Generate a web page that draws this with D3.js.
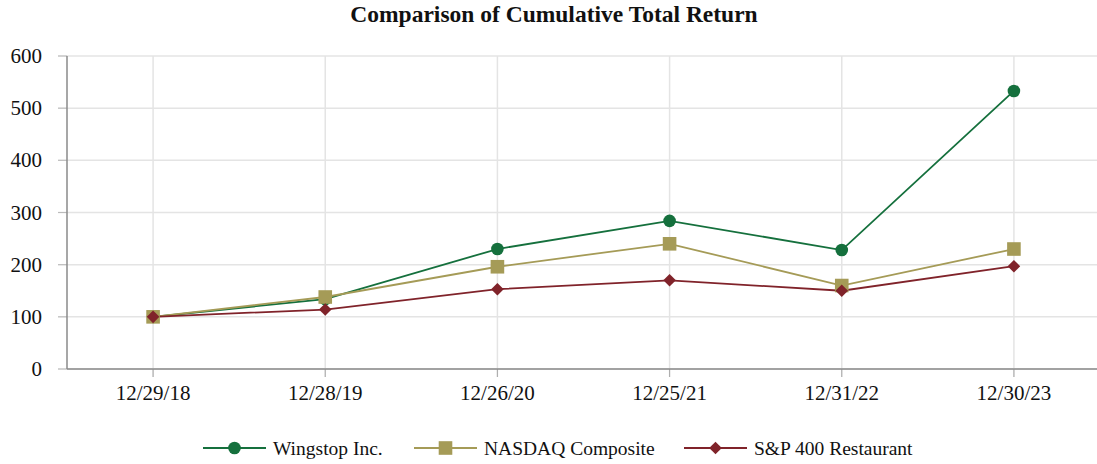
<!DOCTYPE html>
<html><head><meta charset="utf-8">
<script src="https://cdn.jsdelivr.net/npm/d3@7"></script>
<style>body{margin:0;background:#fff}svg{display:block}text{font-family:"Liberation Serif","Times New Roman",serif;fill:#111}</style>
</head><body>
<svg id="chart" width="1097" height="464"></svg>
<script>
const categories = ["12/29/18","12/28/19","12/26/20","12/25/21","12/31/22","12/30/23"];
const wingstop = [100,134,230,284,228,533];
const nasdaq = [100,138,196,240,160,230];
const sp400 = [100,114,153,170,150,197];
const yTicks = [0,100,200,300,400,500,600];
const seriesNames = ["Wingstop Inc.","NASDAQ Composite","S&P 400 Restaurant"];
const colors = ["#15703d","#a59b57","#80232a"];
const shapes = ["circle","square","diamond"];

const series = [wingstop, nasdaq, sp400].map((v,i)=>({name:seriesNames[i],values:v,color:colors[i],shape:shapes[i]}));

const svg = d3.select("#chart");
const pLeft = 67, pRight = 1100, pTop = 56, pBottom = 369;
const x = d3.scalePoint().domain(categories).range([pLeft, pRight]).padding(0.5);
const y = d3.scaleLinear().domain([0,600]).range([pBottom, pTop]);

// title
svg.append("text").attr("x",554).attr("y",22).attr("text-anchor","middle")
  .style("font-weight","bold").style("font-size","23.5px").text("Comparison of Cumulative Total Return");

// horizontal grid
svg.append("g").selectAll("line").data(yTicks).join("line")
  .attr("x1",58).attr("x2",1097).attr("y1",d=>y(d)).attr("y2",d=>y(d))
  .attr("stroke","#e4e4e4").attr("stroke-width",1.5);
// vertical grid
svg.append("g").selectAll("line").data(categories).join("line")
  .attr("x1",d=>x(d)).attr("x2",d=>x(d)).attr("y1",pTop).attr("y2",pBottom+8)
  .attr("stroke","#e4e4e4").attr("stroke-width",1.5);
// tick marks below x axis
svg.append("g").selectAll("line").data(categories).join("line")
  .attr("x1",d=>x(d)).attr("x2",d=>x(d)).attr("y1",pBottom).attr("y2",pBottom+8)
  .attr("stroke","#aaa").attr("stroke-width",1);
// y tick marks
svg.append("g").selectAll("line").data(yTicks).join("line")
  .attr("x1",58).attr("x2",pLeft).attr("y1",d=>y(d)).attr("y2",d=>y(d))
  .attr("stroke","#bbb").attr("stroke-width",1);

// axes lines
svg.append("line").attr("x1",pLeft).attr("x2",pLeft).attr("y1",pTop).attr("y2",pBottom)
  .attr("stroke","#8a8a8a").attr("stroke-width",1.5);
svg.append("line").attr("x1",pLeft).attr("x2",1097).attr("y1",pBottom).attr("y2",pBottom)
  .attr("stroke","#8a8a8a").attr("stroke-width",1.5);

// y labels
svg.append("g").selectAll("text").data(yTicks).join("text")
  .attr("x",42).attr("y",d=>y(d)+7).attr("text-anchor","end").style("font-size","21px").text(d=>d);
// x labels
svg.append("g").selectAll("text").data(categories).join("text")
  .attr("x",d=>x(d)).attr("y",pBottom+31).attr("text-anchor","middle").style("font-size","21px").text(d=>d);

function drawMarker(g, shape, color, cx, cy, s) {
  if (shape==="circle") g.append("circle").attr("cx",cx).attr("cy",cy).attr("r",6.3*s).attr("fill",color);
  else if (shape==="square") g.append("rect").attr("x",cx-6.8*s).attr("y",cy-6.8*s).attr("width",13.6*s).attr("height",13.6*s).attr("fill",color);
  else g.append("path").attr("d",`M${cx},${cy-6.3*s}L${cx+6.3*s},${cy}L${cx},${cy+6.3*s}L${cx-6.3*s},${cy}Z`).attr("fill",color);
}

const line = d3.line().x((d,i)=>x(categories[i])).y(d=>y(d));
series.forEach(s=>{
  svg.append("path").attr("d",line(s.values)).attr("fill","none").attr("stroke",s.color).attr("stroke-width",1.8);
});
series.forEach(s=>{
  const g = svg.append("g");
  s.values.forEach((v,i)=>drawMarker(g,s.shape,s.color,x(categories[i]),y(v),1));
});

// legend
const legendX = [203, 414, 684];
const lg = svg.append("g");
series.forEach((s,i)=>{
  const lx = legendX[i], ly = 448;
  lg.append("line").attr("x1",lx).attr("x2",lx+63).attr("y1",ly).attr("y2",ly).attr("stroke",s.color).attr("stroke-width",2);
  drawMarker(lg,s.shape,s.color,lx+31.5,ly,1);
  lg.append("text").attr("x",lx+70).attr("y",ly+7).style("font-size","19.5px").text(s.name);
});
</script>
</body></html>
